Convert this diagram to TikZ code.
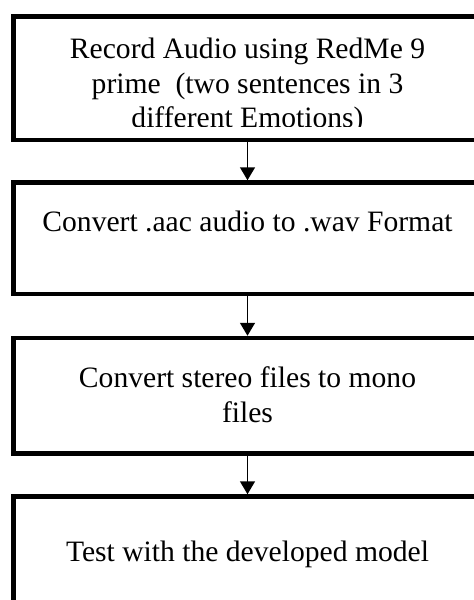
\documentclass[tikz,border=0pt]{standalone}
\usepackage{fontspec}
\setmainfont{Liberation Serif}
\usetikzlibrary{arrows.meta}

\begin{document}
\begin{tikzpicture}[x=1pt,y=1pt,
  stepbox/.style={draw=black, line width=2.25pt, rectangle, minimum width=234pt, inner sep=0pt},
  steptext/.style={font=\fontsize{14.8}{17.3}\selectfont, align=center, inner sep=0pt, anchor=base},
  flow/.style={draw=black, line width=0.75pt, -{Triangle[width=7.5pt,length=6.5pt]}}]
\useasboundingbox (0,0) rectangle (237,-300);

% process boxes (they run past the right and bottom edges)
\node[stepbox, minimum height=61.75pt] (b1) at (123.75,-39.125) {};
\node[stepbox, minimum height=55.75pt] (b2) at (123.75,-119.125) {};
\node[stepbox, minimum height=57.75pt] (b3) at (123.75,-197.875) {};
\node[stepbox, minimum height=70pt]    (b4) at (123.75,-283.25) {};

% box texts (anchored at the last line); the first box cuts its last line
\begin{scope}
  \clip (10,-8) rectangle (230,-63.4);
  \node[steptext] (t1) at (123.75,-63.8)
    {Record Audio using RedMe 9\\prime\ \ (two sentences in 3\\different Emotions)};
\end{scope}
\node[steptext] (t2) at (123.75,-115.5) {Convert .aac audio to .wav Format};
\node[steptext] (t3) at (123.75,-211) {Convert stereo files to mono\\files};
\node[steptext] (t4) at (123.75,-280.5) {Test with the developed model};

% connectors
\draw[flow] (b1) -- (b2);
\draw[flow] (b2) -- (b3);
\draw[flow] (b3) -- (b4);
\end{tikzpicture}
\end{document}
